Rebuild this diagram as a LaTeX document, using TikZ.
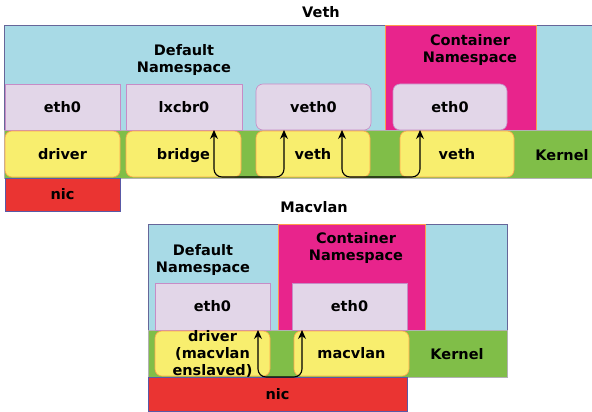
\documentclass[tikz,border=0pt]{standalone}
\usepackage{fontspec}
\setmainfont{DejaVu Sans}
\usetikzlibrary{arrows.meta}

\definecolor{nsblue}{RGB}{168,218,230}
\definecolor{nspink}{RGB}{232,36,140}
\definecolor{iflilac}{RGB}{226,214,232}
\definecolor{drvyellow}{RGB}{248,238,110}
\definecolor{kgreen}{RGB}{128,190,72}
\definecolor{nicred}{RGB}{234,52,50}

\tikzset{
  base/.style={anchor=north west, inner sep=0pt, outer sep=0pt, align=center,
    font=\fontsize{14.5}{17}\selectfont\bfseries},
  box/.style={base, text height=10pt, text depth=0pt},
  nsbox/.style={box, fill=nsblue, draw=gray!80!blue, line width=0.6pt},
  ctbox/.style={box, fill=nspink, draw=orange!60!pink, line width=0.6pt},
  ifbox/.style={box, fill=iflilac, draw=violet!45, line width=0.6pt},
  drvbox/.style={box, fill=drvyellow, draw=orange!70, line width=0.6pt, rounded corners=7pt},
  kbox/.style={box, fill=kgreen, draw=gray!60, line width=0.4pt},
  nicbox/.style={box, fill=nicred, draw=blue!30!gray, line width=0.6pt},
  lbl/.style={font=\fontsize{14.5}{17}\selectfont\bfseries, align=center, inner sep=0pt},
  link/.style={draw=black, line width=1.1pt, rounded corners=8pt,
    {Stealth[length=9pt,width=8pt]}-{Stealth[length=9pt,width=8pt]}}
}

\begin{document}
\begin{tikzpicture}[x=1pt, y=-1pt]
  \useasboundingbox[fill=white] (0,0) rectangle (592,412);

  % veth
  \node[lbl] (vtitle) at (321,12) {Veth};
  \node[nsbox, minimum width=588pt, minimum height=105pt] (defT) at (4,25) {};
  \node[ctbox, minimum width=151pt, minimum height=105pt] (ctT) at (385,25) {};
  \node[lbl] (defTl) at (184,60) {Default\\Namespace};
  \node[lbl] (ctTl) at (470,50) {Container\\Namespace};
  \node[kbox, minimum width=588pt, minimum height=48pt] (kernT) at (4,130) {};
  \node[lbl] (kernTl) at (562,155) {Kernel};

  \node[ifbox, minimum width=115pt, minimum height=46pt] (eth0T) at (5,84) {eth0};
  \node[ifbox, minimum width=116pt, minimum height=46pt] (lxcbr0) at (126,84) {lxcbr0};
  \node[ifbox, rounded corners=7pt, minimum width=115pt, minimum height=46pt] (veth0) at (256,84) {veth0};
  \node[ifbox, rounded corners=7pt, minimum width=114pt, minimum height=46pt] (ceth0T) at (393,84) {eth0};

  \node[drvbox, minimum width=115pt, minimum height=46pt] (driverT) at (5,131) {driver};
  \node[drvbox, minimum width=115pt, minimum height=46pt] (bridge) at (126,131) {bridge};
  \node[drvbox, minimum width=114pt, minimum height=46pt] (vethA) at (256,131) {veth};
  \node[drvbox, minimum width=114pt, minimum height=46pt] (vethB) at (400,131) {veth};
  \node[nicbox, minimum width=115pt, minimum height=33pt] (nicT) at (5,178) {nic};

  \draw[link] ([xshift=-28pt]lxcbr0.south east) -- ++(0,47) -| ([xshift=28pt]veth0.south west);
  \draw[link] ([xshift=-29pt]veth0.south east) -- ++(0,47) -| ([xshift=27pt]ceth0T.south west);

  % macvlan
  \node[lbl] (mtitle) at (314,207) {Macvlan};
  \node[nsbox, minimum width=359pt, minimum height=106pt] (defM) at (148,224) {};
  \node[ctbox, minimum width=147pt, minimum height=106pt] (ctM) at (278,224) {};
  \node[lbl] (defMl) at (203,260) {Default\\Namespace};
  \node[lbl] (ctMl) at (356,248) {Container\\Namespace};
  \node[kbox, minimum width=359pt, minimum height=47pt] (kernM) at (148,330) {};
  \node[lbl] (kernMl) at (457,354) {Kernel};

  \node[ifbox, minimum width=115pt, minimum height=47pt] (eth0M) at (155,283) {eth0};
  \node[ifbox, minimum width=115pt, minimum height=47pt] (ceth0M) at (292,283) {eth0};

  \node[drvbox, minimum width=115pt, minimum height=45pt] (driverM) at (155,331) {};
  \node[lbl] (driverMl) at (driverM.center) {driver\\(macvlan\\enslaved)};
  \node[drvbox, minimum width=115pt, minimum height=45pt] (macvlan) at (294,331) {macvlan};
  \node[nicbox, minimum width=259pt, minimum height=34pt] (nicM) at (148,377) {nic};

  \draw[link] ([xshift=-12pt]eth0M.south east) -- ++(0,47) -| ([xshift=10pt]ceth0M.south west);
\end{tikzpicture}
\end{document}
